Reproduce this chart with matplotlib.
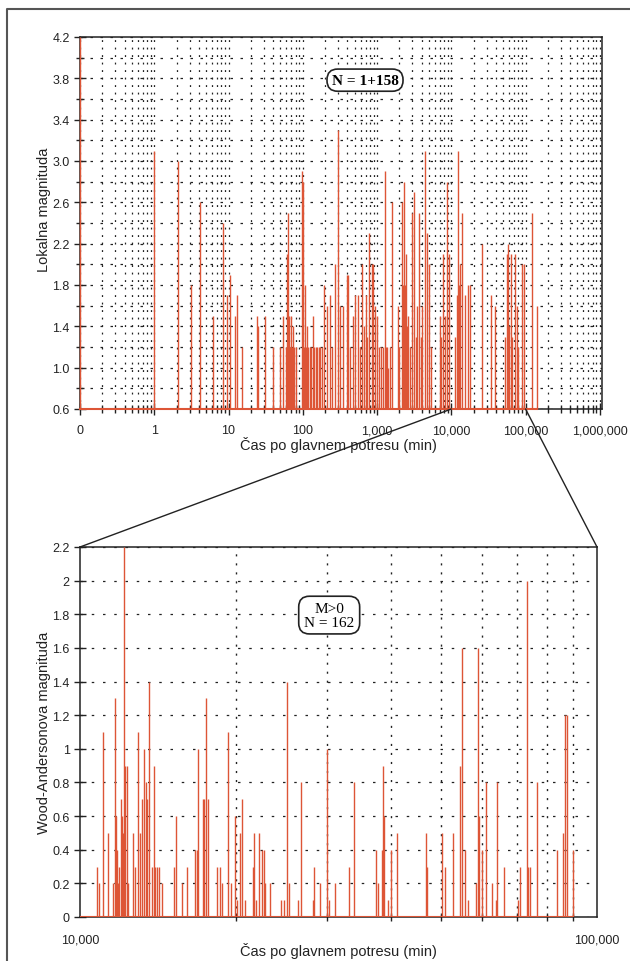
import matplotlib
matplotlib.use("Agg")
import matplotlib.pyplot as plt
from matplotlib.patches import ConnectionPatch
from matplotlib.lines import Line2D
from matplotlib.ticker import FixedLocator, FixedFormatter, LogLocator, NullFormatter, MultipleLocator
import numpy as np

plt.rcParams['font.family'] = ['Liberation Sans', 'DejaVu Sans']

# ---------------- data: top chart (local magnitude) ----------------
top_time = [0.1, 1.0, 2.1, 3.1, 4.1, 6.2, 8.4, 9.5, 10.4, 12.2, 13, 15, 24, 25, 31, 40, 49, 54,
            59, 61, 63, 65, 67, 69, 71, 74, 77, 81, 97, 100, 103, 107, 110, 114, 119, 125, 131,
            137, 143, 150, 157, 165, 173, 181, 192, 211, 232, 245, 270, 297, 316, 347, 393, 405,
            430, 472, 502, 552, 590, 624, 660, 707, 740, 776, 851, 878, 934, 993, 1050, 1120,
            1200, 1273, 1320, 1355, 1420, 1487, 1581, 1905, 2000, 2157, 2230, 2296, 2360, 2444,
            2520, 2600, 2770, 2940, 3130, 3300, 3436, 3655, 3850, 4010, 4397, 4680, 4980, 5400,
            7000, 7300, 7690, 8180, 8700, 9250, 11300, 11850, 12240, 12600, 13010, 13840, 15200,
            16680, 17750, 25720, 34000, 38500, 53000, 55800, 57600, 60000, 63200, 66000, 71600,
            76200, 80000, 89000, 94600, 121000, 141500]
top_mag = [4.2, 3.1, 3.0, 1.8, 2.6, 1.5, 2.4, 1.7, 1.9, 1.5, 1.7, 1.2, 1.5, 1.4, 1.5, 1.2, 1.2, 1.5,
           1.2, 2.1, 2.5, 1.5, 1.2, 1.5, 1.2, 1.4, 1.2, 1.2, 2.9, 2.8, 1.2, 1.8, 1.2, 1.4, 1.2, 1.2, 1.2,
           1.5, 1.2, 1.2, 1.2, 1.2, 1.2, 1.2, 1.8, 1.6, 1.7, 1.2, 2.0, 3.3, 1.6, 1.6, 1.9, 1.9,
           1.2, 1.5, 1.7, 1.7, 1.2, 2.0, 1.4, 1.7, 1.3, 2.3, 2.0, 2.0, 1.6, 1.5, 1.2, 1.2,
           1.2, 2.9, 1.2, 1.2, 1.0, 1.2, 2.6, 1.6, 1.2, 2.6, 1.8, 2.8, 1.8, 2.1,
           1.4, 1.5, 1.2, 2.5, 2.7, 1.3, 1.6, 2.5, 1.3, 1.6, 3.1, 2.3, 2.0, 1.2,
           1.5, 1.3, 2.1, 1.5, 2.8, 2.1, 1.3, 1.7, 3.1, 1.8, 2.0, 2.5, 1.7,
           1.8, 1.8, 2.2, 1.7, 1.6, 1.3, 2.1, 2.2, 1.4, 2.1, 1.3, 2.1,
           1.6, 1.2, 2.0, 2.0, 2.5, 1.6]

# ---------------- data: bottom chart (Wood-Anderson magnitude) ----------------
bot_time = [10800, 10870, 11060, 11340, 11600, 11690, 11740, 11790, 11850, 11900, 11990, 12060,
            12120, 12170, 12240, 12310, 12400, 12680, 12780, 12970, 13060, 13160, 13300, 13400,
            13500, 13620, 13760, 13890, 13990, 14070, 14230, 14390, 15200, 15340, 15730, 16090,
            16690, 16820, 16940, 17270, 17370, 17530, 17710, 18380, 18650, 18790, 19310, 19570,
            19950, 20150, 20400, 20600, 20850, 21580, 21710, 21900, 22230, 22470, 22700, 22830,
            23310, 24480, 24800, 25180, 25400, 26430, 26760, 28190, 28350, 29120, 30010, 30360,
            31140, 33140, 33880, 37370, 37760, 38330, 38500, 38730, 39470, 39900, 41000, 46700,
            46970, 50070, 50820, 52730, 54330, 54890, 55550, 56370, 58280, 58790, 59220, 59840,
            61030, 62640, 63690, 64140, 66090, 70410, 70950, 73120, 73650, 74200, 76640, 83790,
            86060, 86710, 87380, 90000]
bot_mag = [0.3, 0.2, 1.1, 0.5, 0.2, 1.3, 0.6, 0.4, 0.2, 0.3, 0.7, 0.6,
           0.5, 2.2, 0.9, 0.9, 0.2, 0.5, 0.3, 1.1, 0.5, 0.7, 1.0, 0.8,
           0.7, 1.4, 0.3, 0.9, 0.3, 0.3, 0.3, 0.2, 0.3, 0.6, 0.2, 0.3,
           0.4, 0.4, 1.0, 0.7, 0.7, 1.3, 0.7, 0.3, 0.3, 0.2, 1.1, 0.2,
           0.6, 0.1, 0.5, 0.7, 0.1, 0.3, 0.5, 0.1, 0.5, 0.4, 0.4, 0.2,
           0.2, 0.1, 0.1, 1.4, 0.2, 0.1, 0.8, 0.1, 0.3, 0.2, 1.0, 0.1,
           0.2, 0.3, 0.8, 0.4, 0.2, 0.4, 0.9, 0.6, 0.1, 0.4, 0.5, 0.5,
           0.3, 0.5, 0.3, 0.5, 0.9, 1.6, 0.4, 0.1, 0.2, 1.6, 0.6, 0.4,
           0.8, 0.2, 0.1, 0.8, 0.3, 0.1, 0.3, 2.0, 0.3, 0.3, 0.8, 0.4,
           0.5, 1.2, 1.2, 0.4]

top_xticks = [0.1, 1, 10, 100, 1000, 10000, 100000, 1000000]
top_xlabels = ['0', '1', '10', '100', '1,000', '10,000', '100,000', '1,000,000']
top_yticks = [0.6, 1.0, 1.4, 1.8, 2.2, 2.6, 3.0, 3.4, 3.8, 4.2]
bot_xticks = [10000, 100000]
bot_xlabels = ['10,000', '100,000']

top_label = 'N = 1+158'
bot_label = 'M>0\nN = 162'
xlabel = 'Čas po glavnem potresu (min)'

RED = '#dd5536'
W, H = 630, 962

fig = plt.figure(figsize=(W / 100, H / 100), dpi=100)
fig.patch.set_facecolor('white')

def ax_rect(l, t, r, b):
    return [l / W, 1 - b / H, (r - l) / W, (b - t) / H]

# ---------------- top axes ----------------
ax1 = fig.add_axes(ax_rect(80, 38, 602, 410))
ax1.set_xscale('log')
ax1.set_xlim(0.1, 1.07e6)
ax1.set_ylim(0.6, 4.2)
ax1.set_axisbelow(True)
ax1.xaxis.set_major_locator(FixedLocator(top_xticks))
ax1.xaxis.set_major_formatter(FixedFormatter(top_xlabels))
ax1.xaxis.set_minor_locator(LogLocator(base=10, subs=np.arange(2, 10), numticks=20))
ax1.xaxis.set_minor_formatter(NullFormatter())
ax1.yaxis.set_major_locator(FixedLocator(top_yticks))
ax1.yaxis.set_minor_locator(FixedLocator([v + 0.2 for v in top_yticks[:-1]]))
ax1.yaxis.set_major_formatter(plt.FormatStrFormatter('%.1f'))
ax1.grid(True, axis='y', which='both', color='#222', lw=0.9, linestyle=(0, (2, 6)))
ax1.grid(True, axis='x', which='both', color='#222', lw=0.9, linestyle=(0, (1.5, 4.5)))
ax1.vlines(top_time, 0.6, top_mag, color=RED, lw=1.0, zorder=3, clip_on=False)
ax1.plot([min(top_time), max(top_time)], [0.6, 0.6], color=RED, lw=1.5, zorder=4, clip_on=False)
ax1.text(0.546, 0.884, top_label, transform=ax1.transAxes, ha='center', va='center',
         fontsize=11, fontweight='bold', family=['Liberation Serif'], zorder=6,
         bbox=dict(boxstyle='round,pad=0.3,rounding_size=0.7', fc='white', ec='#222', lw=1.2))

# ---------------- bottom axes ----------------
ax2 = fig.add_axes(ax_rect(80, 548, 597, 918))
ax2.set_xscale('log')
ax2.set_xlim(1e4, 1e5)
ax2.set_ylim(0, 2.2)
ax2.set_axisbelow(True)
ax2.xaxis.set_major_locator(FixedLocator(bot_xticks))
ax2.xaxis.set_major_formatter(FixedFormatter(bot_xlabels))
ax2.xaxis.set_minor_locator(LogLocator(base=10, subs=np.arange(2, 10), numticks=20))
ax2.xaxis.set_minor_formatter(NullFormatter())
ax2.yaxis.set_major_locator(MultipleLocator(0.2))
ax2.yaxis.set_major_formatter(plt.FuncFormatter(lambda v, p: ('%.1f' % v).rstrip('0').rstrip('.') if v else '0'))
ax2.grid(True, axis='y', which='major', color='#222', lw=0.9, linestyle=(0, (2, 7)))
ax2.grid(True, axis='x', which='minor', color='#222', lw=1.0, linestyle=(0, (1.5, 5)))
ax2.vlines(bot_time, 0, bot_mag, color=RED, lw=1.0, zorder=3)
ax2.plot([1e4, max(bot_time)], [0, 0], color=RED, lw=1.5, zorder=4)
ax2.text(0.482, 0.816, bot_label, transform=ax2.transAxes, ha='center', va='center',
         fontsize=11, family=['Liberation Serif'], linespacing=1.1, zorder=6,
         bbox=dict(boxstyle='round,pad=0.35,rounding_size=0.7', fc='white', ec='#222', lw=1.2))

for ax in (ax1, ax2):
    for s in ax.spines.values():
        s.set_color('#222')
        s.set_linewidth(1.1)
    ax.tick_params(axis='both', which='both', direction='inout', color='#222', width=1.0,
                   top=False, right=False, labelsize=9, labelcolor='#222')
    ax.tick_params(axis='both', which='major', length=8)
    ax.tick_params(axis='both', which='minor', length=6)
    ax.tick_params(axis='x', pad=7)

ax2.tick_params(axis='x', which='major', length=0, pad=12)
ax2.tick_params(axis='y', which='major', length=8)

# axis labels
fig.text(44 / W, 1 - 210 / H, 'Lokalna magnituda', rotation=90, ha='center', va='center',
         fontsize=10.5, color='#222')
fig.text(44 / W, 1 - 733 / H, 'Wood-Andersonova magnituda', rotation=90, ha='center',
         va='center', fontsize=10.5, color='#222')
fig.text(338 / W, 1 - 445 / H, xlabel, ha='center', va='center', fontsize=10.5, color='#222')
fig.text(338 / W, 1 - 951 / H, xlabel, ha='center', va='center', fontsize=10.5, color='#222')

# connecting lines (zoom)
for xv in bot_xticks:
    cp = ConnectionPatch(xyA=(xv, 0.6), coordsA=ax1.transData, xyB=(xv, 2.2),
                         coordsB=ax2.transData, color='#222', lw=1.0)
    fig.add_artist(cp)

# page frame
fig.add_artist(Line2D([7 / W, 7 / W, 1.0], [0, 1 - 10 / H, 1 - 10 / H],
                      transform=fig.transFigure, color='#555', lw=1.5))

fig.savefig('out.png', dpi=100)
